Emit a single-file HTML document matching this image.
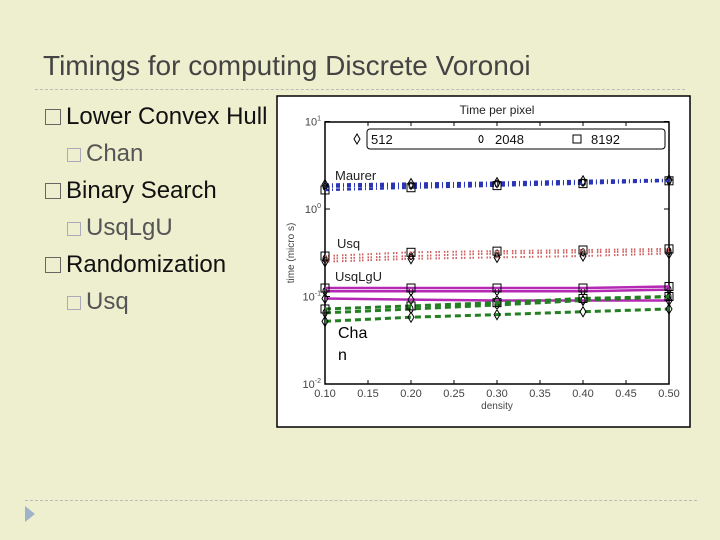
<!DOCTYPE html>
<html><head><meta charset="utf-8"><style>
body{margin:0;width:720px;height:540px;background:#eeefcf;font-family:"Liberation Sans",sans-serif;position:relative;overflow:hidden}
.t{position:absolute;left:43px;top:50px;font-size:28px;color:#444}
.b{position:absolute;font-size:24px;color:#111;white-space:nowrap}
.b .sq{display:inline-block;width:14px;height:14px;border:1.5px solid #666;margin-right:5px;vertical-align:-1px}
.s{color:#555}.s .sq{border-color:#aab;width:12px;height:12px}
</style></head><body>
<div class="t">Timings for computing Discrete Voronoi</div>
<div style="position:absolute;left:35px;top:89px;width:650px;border-top:1px dashed #bbb"></div>
<div class="b" style="left:45px;top:103px"><span class="sq"></span>Lower Convex Hull</div>
<div class="b s" style="left:67px;top:140px"><span class="sq"></span>Chan</div>
<div class="b" style="left:45px;top:177px"><span class="sq"></span>Binary Search</div>
<div class="b s" style="left:67px;top:214px"><span class="sq"></span>UsqLgU</div>
<div class="b" style="left:45px;top:251px"><span class="sq"></span>Randomization</div>
<div class="b s" style="left:67px;top:288px"><span class="sq"></span>Usq</div>
<svg style="position:absolute;left:0;top:0" width="720" height="540" id="c">
<rect x="277" y="96" width="413" height="331" fill="#fff" stroke="#000" stroke-width="1.5"/>
</svg>
<div style="position:absolute;left:25px;top:500px;width:672px;border-top:1px dashed #bbb"></div>
<div style="position:absolute;left:25px;top:506px;width:0;height:0;border-left:10px solid #9fb3c8;border-top:8px solid transparent;border-bottom:8px solid transparent"></div>
<script>
const densities=[0.1,0.2,0.3,0.4,0.5];
const xTicks=[0.10,0.15,0.20,0.25,0.30,0.35,0.40,0.45,0.50];
const yTicks=[-2,-1,0,1];
const sizes=["512","2048","8192"];
const maurer512=[1.9,1.95,2.0,2.1,2.15];
const maurer2048=[1.8,1.85,1.95,2.0,2.1];
const maurer8192=[1.65,1.75,1.85,1.95,2.1];
const usq512=[0.25,0.27,0.28,0.29,0.31];
const usq2048=[0.27,0.29,0.31,0.32,0.33];
const usq8192=[0.29,0.32,0.33,0.34,0.35];
const lgu512=[0.095,0.092,0.09,0.09,0.09];
const lgu2048=[0.115,0.115,0.115,0.115,0.12];
const lgu8192=[0.125,0.125,0.125,0.125,0.13];
const chan512=[0.052,0.058,0.062,0.067,0.072];
const chan2048=[0.065,0.072,0.08,0.09,0.1];
const chan8192=[0.072,0.078,0.085,0.095,0.1];
const X=d=>325+(d-0.1)/0.4*344;
const Y=v=>209-Math.log10(v)*87.5;
const svg=document.getElementById('c');const NS='http://www.w3.org/2000/svg';
function mk(t,a,p){const e=document.createElementNS(NS,t);for(const k in a)e.setAttribute(k,a[k]);(p||svg).appendChild(e);return e;}
const fr=mk('rect',{x:325,y:122,width:344,height:262,fill:'none',stroke:'#000','stroke-width':1.5});


xTicks.forEach(t=>{mk('line',{x1:X(t),x2:X(t),y1:384,y2:380,stroke:'#000'});mk('line',{x1:X(t),x2:X(t),y1:122,y2:126,stroke:'#000'});
const l=mk('text',{x:X(t),y:397,'font-size':11,'text-anchor':'middle',fill:'#444'});l.textContent=t.toFixed(2);

});
yTicks.forEach(p=>{const y=Y(Math.pow(10,p));mk('line',{x1:325,x2:330,y1:y,y2:y,stroke:'#000'});mk('line',{x1:669,x2:664,y1:y,y2:y,stroke:'#000'});
const l=mk('text',{x:321,y:y+4,'font-size':11,'text-anchor':'end',fill:'#444'});l.innerHTML='10<tspan dy="-5" font-size="7">'+p+'</tspan>';

});
let tt=mk('text',{x:497,y:114,'font-size':12,'text-anchor':'middle',fill:'#222'});tt.textContent='Time per pixel';


let xl=mk('text',{x:497,y:409,'font-size':10,'text-anchor':'middle',fill:'#444'});xl.textContent='density';


let yl=mk('text',{x:0,y:0,'font-size':10,'text-anchor':'middle',fill:'#444',transform:'translate(294,253) rotate(-90)'});yl.textContent='time (micro s)';


const lg=mk('rect',{x:367,y:129,width:298,height:20,rx:3,fill:'#fff',stroke:'#000'});


const mks=['d','o','s'];
function marker(x,y,k){if(k==='d')mk('path',{d:`M${x} ${y-5}L${x+3} ${y}L${x} ${y+5}L${x-3} ${y}Z`,fill:'none',stroke:'#000'});
else if(k==='o')mk('ellipse',{cx:x,cy:y,rx:2,ry:3.5,fill:'none',stroke:'#000'});
else mk('rect',{x:x-4,y:y-4,width:8,height:8,fill:'none',stroke:'#000'});}
[[357,'512'],[481,'2048'],[577,'8192']].forEach((e,i)=>{marker(e[0],139,mks[i]);const t=mk('text',{x:e[0]+14,y:144,'font-size':13,fill:'#111'});t.textContent=sizes[i];

});
const groups=[
['maurer',[maurer512,maurer2048,maurer8192],'#2a35b5','4,3,1,3',2.5],
['usq',[usq512,usq2048,usq8192],'#d06060','1.5,1.5,1.5,4',2],
['usqlgu',[lgu512,lgu2048,lgu8192],'#b428b4','',2.5],
['chan',[chan512,chan2048,chan8192],'#228022','6,4',3]];
groups.forEach(g=>g[1].forEach((s,i)=>{
const pl=mk('polyline',{points:s.map((v,j)=>X(densities[j])+','+Y(v)).join(' '),fill:'none',stroke:g[2],'stroke-width':g[4],'stroke-dasharray':g[3]});


s.forEach((v,j)=>marker(X(densities[j]),Y(v),mks[i]));}));
[['Maurer',335,180],['Usq',337,248],['UsqLgU',335,281]].forEach(a=>{const t=mk('text',{x:a[1],y:a[2],'font-size':13,fill:'#222'});t.textContent=a[0];

});
[['Cha',338,338],['n',338,360]].forEach(a=>{const t=mk('text',{x:a[1],y:a[2],'font-size':16,fill:'#000'});t.textContent=a[0];

});
</script>
</body></html>
